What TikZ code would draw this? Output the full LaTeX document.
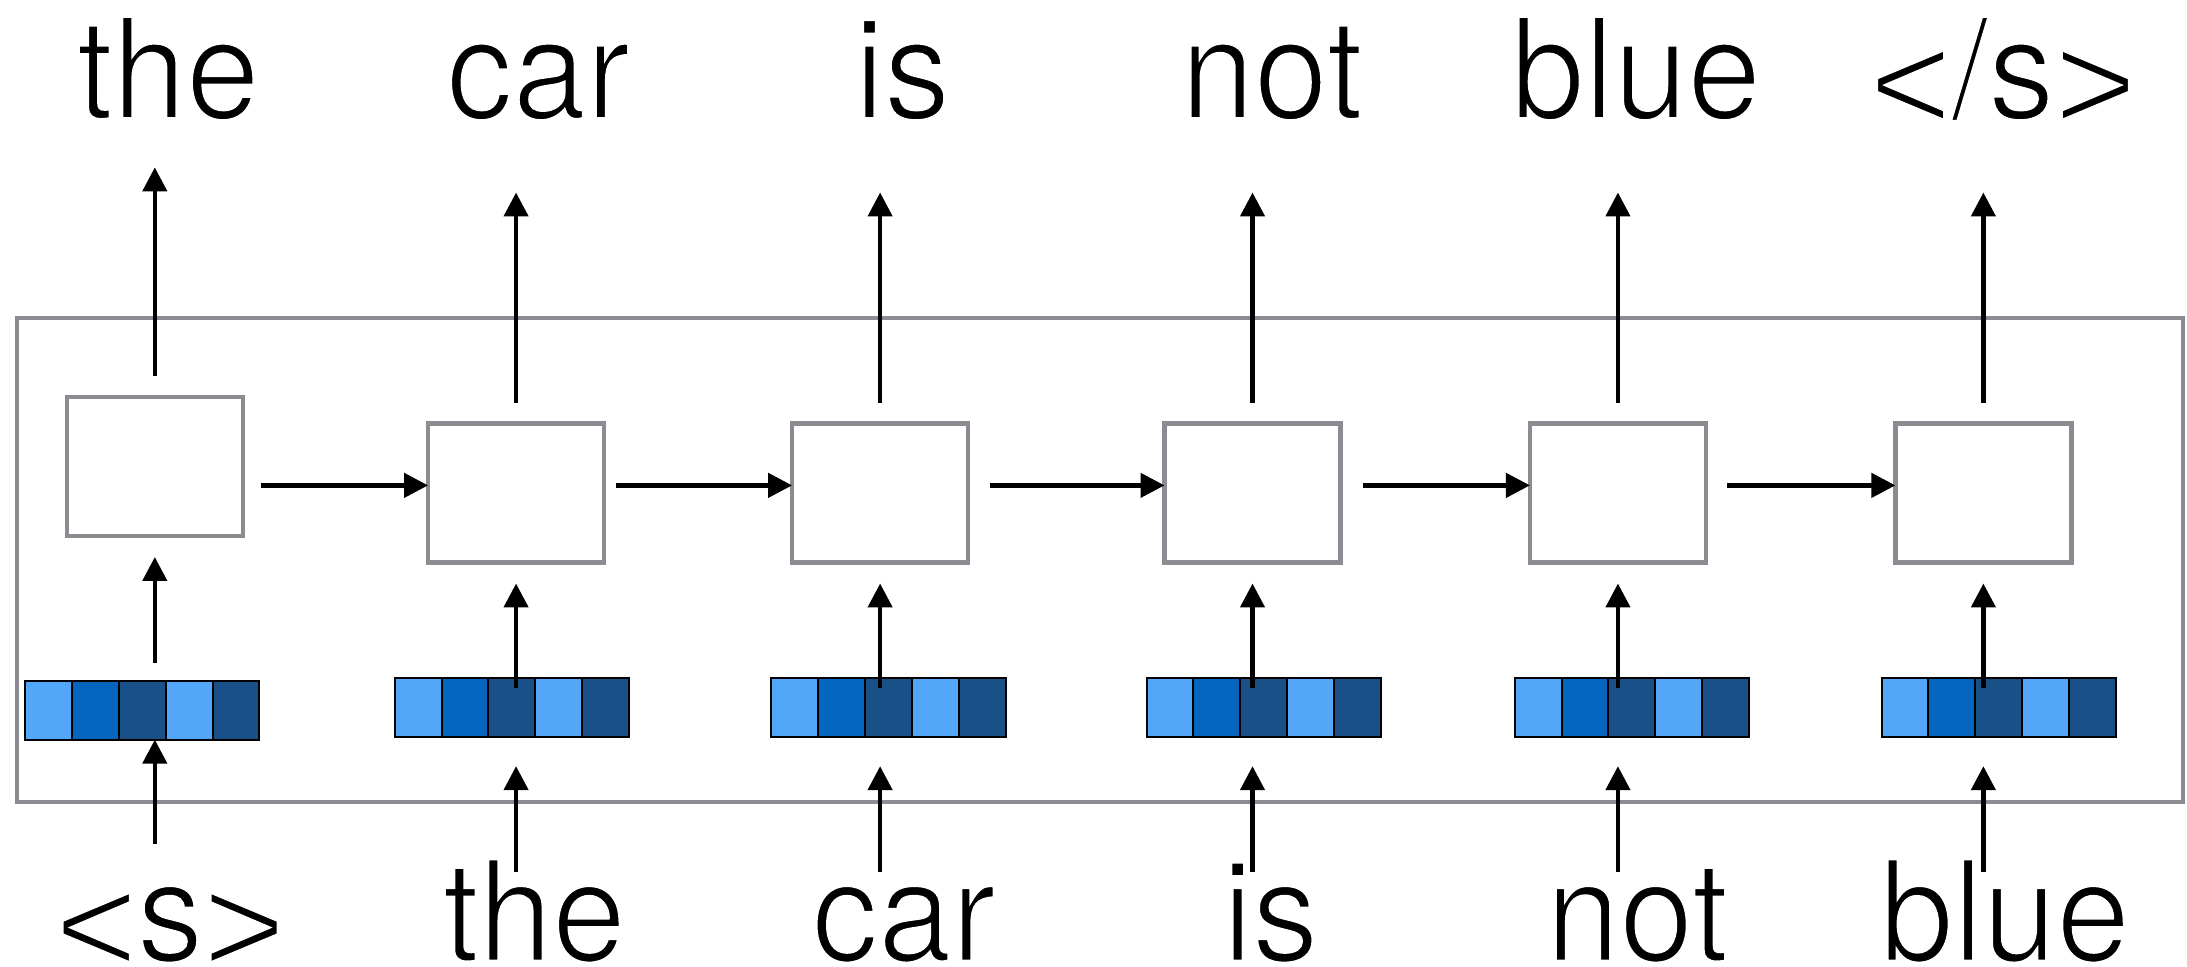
\documentclass[tikz,border=0pt]{standalone}
\usepackage{fontspec}
\setmainfont{TeX Gyre Heros}[FakeStretch=0.945]
\newfontfamily\libsans{Liberation Sans}
\usetikzlibrary{arrows.meta,calc}
\definecolor{framegray}{RGB}{138,140,145}
\definecolor{cellA}{RGB}{82,167,248}
\definecolor{cellB}{RGB}{5,102,192}
\definecolor{cellC}{RGB}{25,80,135}
% light text: glyphs filled, then their outlines stroked in white
\makeatletter
\newcommand\lighttext[1]{{\pgfscope\pgfsys@invoke{2 Tr}\pgfsetstrokecolor{white}\pgfsetlinewidth{3pt}#1\endpgfscope}}
\makeatother
% angle brackets sitting on the baseline
\newcommand\lt{\raisebox{-0.09em}{\libsans <}}
\newcommand\gt{\raisebox{-0.09em}{\libsans >}}
\begin{document}
\begin{tikzpicture}[x=1.3948pt,y=-1.3948pt,
  arr/.style={line width=4.5pt,-{Triangle[length=24pt,width=24pt]}},
  rnn/.style={draw=framegray,line width=4.5pt,fill=white,minimum width=176pt,minimum height=139pt,inner sep=0,outer sep=0},
  vcell/.style={draw=black,line width=2pt,minimum width=46.87pt,minimum height=59pt,inner sep=0,outer sep=0,anchor=north west},
  word/.style={inner sep=0,anchor=base,font=\fontsize{140}{140}\selectfont},
  frame/.style={draw=framegray,line width=4pt}]
\useasboundingbox (0,0) rectangle (1568,693);

% outer frame around the recurrent part
\draw[frame] (12,228) rectangle (1565,575);

% recurrent cells
\node[rnn] (rnn1) at (111,334.5) {};
\node[rnn] (rnn2) at (370,353.5) {};
\node[rnn] (rnn3) at (631,353.5) {};
\node[rnn] (rnn4) at (898,353.5) {};
\node[rnn] (rnn5) at (1160,353.5) {};
\node[rnn] (rnn6) at (1422,353.5) {};

% embedding vectors, five cells each
\foreach \n/\x/\y in {1/18/488, 2/283/486, 3/553/486, 4/822/486, 5/1086/486, 6/1349/486}{
  \foreach \k/\c in {0/cellA,1/cellB,2/cellC,3/cellA,4/cellC}{
    \node[vcell,fill=\c] (e\n-\k) at ($(\x,\y)+(\k*33.6,0)$) {};
  }
}

% output words
\node[word] (out1) at (120.5,85) {\lighttext{the}};
\node[word] (out2) at (386,85) {\lighttext{car}};
\node[word] (out3) at (647,85) {\lighttext{is}};
\node[word] (out4) at (912,85) {\lighttext{not}};
\node[word] (out5) at (1173,85) {\lighttext{blue}};
\node[word] (out6) at (1436,85) {\lighttext{\lt/s\gt}};

% input words
\node[word] (in1) at (122,689) {\lighttext{\lt s\gt}};
\node[word] (in2) at (383,689) {\lighttext{the}};
\node[word] (in3) at (648,689) {\lighttext{car}};
\node[word] (in4) at (911,689) {\lighttext{is}};
\node[word] (in5) at (1174,689) {\lighttext{not}};
\node[word] (in6) at (1437.5,689) {\lighttext{blue}};

% free ends of the vertical arrows
\coordinate (ot1) at (111,120);
\coordinate (it1) at (111,605);
\foreach \n/\x in {2/370,3/631,4/898,5/1160,6/1422}{
  \coordinate (ot\n) at (\x,138);
  \coordinate (it\n) at (\x,625);
}

% cell -> output word
\foreach \n in {1,...,6}
  \draw[arr] ($(rnn\n.north)+(0,-15)$) -- (ot\n);

% embedding -> cell
\draw[arr] ($(rnn1.south |- e1-2.north)+(0,-13)$) -- ($(rnn1.south)+(0,15)$);
\foreach \n in {2,...,6}
  \draw[arr] ($(rnn\n.south |- e\n-2.north)+(0,7)$) -- ($(rnn\n.south)+(0,15)$);

% input word -> embedding
\draw[arr] (it1) -- (rnn1.south |- e1-2.south);
\foreach \n in {2,...,6}
  \draw[arr] (it\n) -- ($(rnn\n.south |- e\n-2.south)+(0,21)$);

% recurrent connections
\coordinate (h1) at (187,348);
\coordinate (h2) at (442,348);
\coordinate (h3) at (710,348);
\coordinate (h4) at (977,348);
\coordinate (h5) at (1238,348);
\foreach \n [evaluate=\n as \m using int(\n+1)] in {1,...,5}
  \draw[arr] (h\n) -- (rnn\m.west |- h\n);
\end{tikzpicture}
\end{document}
